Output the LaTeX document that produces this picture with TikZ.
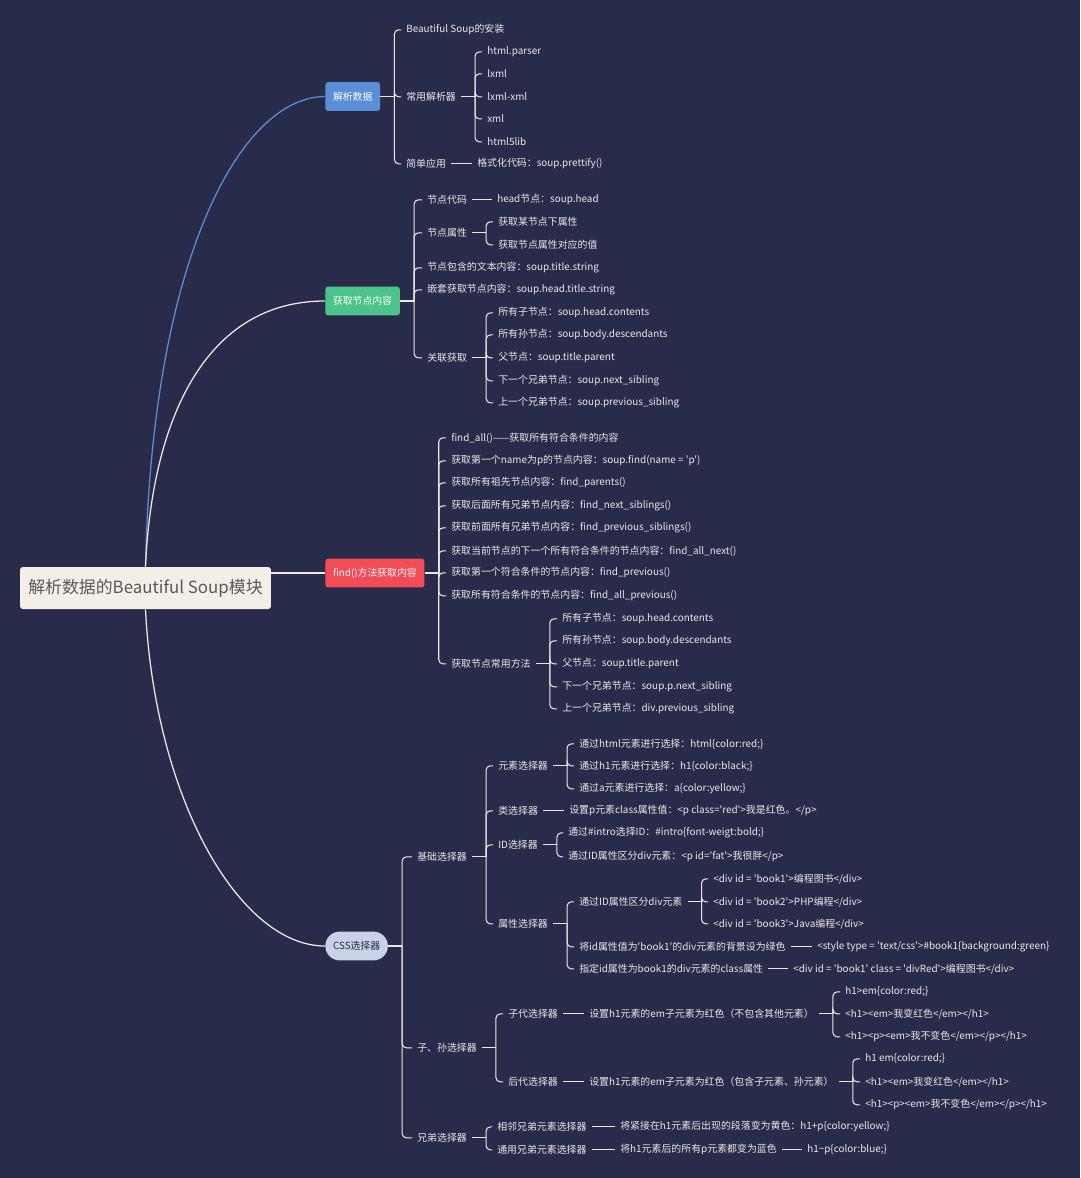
\documentclass[tikz,border=0pt]{standalone}
\usepackage{fontspec}
\setmainfont{Noto Sans CJK SC}[Ligatures=TeXOff]
\definecolor{midnight}{RGB}{41, 43, 75}
\definecolor{chalk}{RGB}{236, 233, 226}
\definecolor{peterriver}{RGB}{90, 143, 216}
\definecolor{nephritis}{RGB}{76, 195, 138}
\definecolor{watermelon}{RGB}{242, 76, 86}
\definecolor{mist}{RGB}{200, 211, 230}
\definecolor{linen}{RGB}{243, 239, 231}
\newcommand{\bracelink}[2]{%
  \draw[link] (#1.east) -- ++(14,0) coordinate (#1-f);
  \foreach \kid in {#2} \draw[link, rounded corners=3pt] (#1-f) |- (\kid.west);}

\begin{document}
\begin{tikzpicture}[x=0.025cm, y=-0.025cm,
    leaf/.style={anchor=west, xshift=-3.5pt, yshift=-0.6pt, inner xsep=3.5pt, inner ysep=1pt, text=chalk, font=\fontsize{7.05}{8}\selectfont},
    branch/.style={anchor=west, rounded corners=2pt, inner xsep=5.5pt, minimum height=0.72cm, text=white, font=\fontsize{7}{8}\selectfont},
    link/.style={draw=chalk, line width=0.75pt},
    trunk/.style={line width=0.9pt}]
  \useasboundingbox (0,0) rectangle (1080,1178);
  \fill[midnight] (0,0) rectangle (1080,1178);

  \node[fill=linen, rounded corners=2pt, minimum width=6.27cm, minimum height=1.05cm, text=black!65, font=\fontsize{12}{14}\selectfont] (root) at (145.5,588) {解析数据的Beautiful Soup模块};

  \node[branch, fill=peterriver] (b1) at (325,96.5) {解析数据};
  \node[branch, fill=nephritis]  (b2) at (325,301)  {获取节点内容};
  \node[branch, fill=watermelon] (b3) at (325,573)  {find()方法获取内容};
  \node[branch, fill=mist, text=midnight, rounded corners=0.36cm] (b4) at (325,946) {CSS选择器};

  \draw[trunk, peterriver] (root.north) .. controls (152,260) and (240,97) .. (b1.west);
  \draw[trunk, chalk] (root.north) .. controls (152,420) and (205,301) .. (b2.west);
  \draw[trunk, chalk] (root.east |- b3.west) -- (b3.west);
  \draw[trunk, chalk] (root.south) .. controls (155,800) and (240,946) .. (b4.west);

  % 解析数据
  \node[leaf] (b1a) at (406,29)  {Beautiful Soup的安装};
  \node[leaf] (b1b) at (406,96)  {常用解析器};
  \node[leaf] (b1c) at (406,163) {简单应用};
  \node[leaf] (p1) at (487,51)  {html.parser};
  \node[leaf] (p2) at (487,73)  {lxml};
  \node[leaf] (p3) at (487,96)  {lxml-xml};
  \node[leaf] (p4) at (487,118) {xml};
  \node[leaf] (p5) at (487,141) {html5lib};
  \node[leaf] (b1c1) at (477,163) {格式化代码：soup.prettify()};
  \bracelink{b1}{b1a,b1b,b1c}
  \bracelink{b1b}{p1,p2,p3,p4,p5}
  \draw[link] (b1c) -- (b1c1);

  % 获取节点内容
  \node[leaf] (n1) at (427,199) {节点代码};
  \node[leaf] (n2) at (427,232) {节点属性};
  \node[leaf] (n3) at (427,267) {节点包含的文本内容：soup.title.string};
  \node[leaf] (n4) at (427,289) {嵌套获取节点内容：soup.head.title.string};
  \node[leaf] (n5) at (427,357) {关联获取};
  \node[leaf] (n1a) at (497,199) {head节点：soup.head};
  \node[leaf] (n2a) at (498,221) {获取某节点下属性};
  \node[leaf] (n2b) at (498,244) {获取节点属性对应的值};
  \node[leaf] (n5a) at (498,312) {所有子节点：soup.head.contents};
  \node[leaf] (n5b) at (498,334) {所有孙节点：soup.body.descendants};
  \node[leaf] (n5c) at (498,357) {父节点：soup.title.parent};
  \node[leaf] (n5d) at (498,380) {下一个兄弟节点：soup.next\_sibling};
  \node[leaf] (n5e) at (498,402) {上一个兄弟节点：soup.previous\_sibling};
  \bracelink{b2}{n1,n2,n3,n4,n5}
  \draw[link] (n1) -- (n1a);
  \bracelink{n2}{n2a,n2b}
  \bracelink{n5}{n5a,n5b,n5c,n5d,n5e}

  % find()方法获取内容
  \node[leaf] (f1) at (451,437) {find\_all()——获取所有符合条件的内容};
  \node[leaf] (f2) at (451,460) {获取第一个name为p的节点内容：soup.find(name = 'p')};
  \node[leaf] (f3) at (451,482) {获取所有祖先节点内容：find\_parents()};
  \node[leaf] (f4) at (451,505) {获取后面所有兄弟节点内容：find\_next\_siblings()};
  \node[leaf] (f5) at (451,527) {获取前面所有兄弟节点内容：find\_previous\_siblings()};
  \node[leaf] (f6) at (451,550) {获取当前节点的下一个所有符合条件的节点内容：find\_all\_next()};
  \node[leaf] (f7) at (451,572) {获取第一个符合条件的节点内容：find\_previous()};
  \node[leaf] (f8) at (451,595) {获取所有符合条件的节点内容：find\_all\_previous()};
  \node[leaf] (f9) at (451,663) {获取节点常用方法};
  \node[leaf] (f9a) at (562,618) {所有子节点：soup.head.contents};
  \node[leaf] (f9b) at (562,640) {所有孙节点：soup.body.descendants};
  \node[leaf] (f9c) at (562,663) {父节点：soup.title.parent};
  \node[leaf] (f9d) at (562,686) {下一个兄弟节点：soup.p.next\_sibling};
  \node[leaf] (f9e) at (562,708) {上一个兄弟节点：div.previous\_sibling};
  \bracelink{b3}{f1,f2,f3,f4,f5,f6,f7,f8,f9}
  \bracelink{f9}{f9a,f9b,f9c,f9d,f9e}

  % CSS选择器
  \node[leaf] (c1) at (417,856)  {基础选择器};
  \node[leaf] (c2) at (417,1047) {子、孙选择器};
  \node[leaf] (c3) at (417,1137) {兄弟选择器};
  \bracelink{b4}{c1,c2,c3}

  \node[leaf] (e) at (498,765) {元素选择器};
  \node[leaf] (k) at (498,810) {类选择器};
  \node[leaf] (d) at (498,844) {ID选择器};
  \node[leaf] (a) at (498,923) {属性选择器};
  \bracelink{c1}{e,k,d,a}

  \node[leaf] (e1) at (579,743) {通过html元素进行选择：html\{color:red;\}};
  \node[leaf] (e2) at (579,765) {通过h1元素进行选择：h1\{color:black;\}};
  \node[leaf] (e3) at (579,788) {通过a元素进行选择：a\{color:yellow;\}};
  \bracelink{e}{e1,e2,e3}
  \node[leaf] (k1) at (569,810) {设置p元素class属性值：<p class='red'>我是红色。</p>};
  \draw[link] (k) -- (k1);
  \node[leaf] (d1) at (568,832) {通过\#intro选择ID：\#intro\{font-weigt:bold;\}};
  \node[leaf] (d2) at (568,856) {通过ID属性区分div元素：<p id='fat'>我很胖</p>};
  \bracelink{d}{d1,d2}

  \node[leaf] (a1) at (579,901) {通过ID属性区分div元素};
  \node[leaf] (a2) at (579,946) {将id属性值为'book1'的div元素的背景设为绿色};
  \node[leaf] (a3) at (579,968) {指定id属性为book1的div元素的class属性};
  \bracelink{a}{a1,a2,a3}
  \node[leaf] (a1x) at (713,878) {<div id = 'book1'>编程图书</div>};
  \node[leaf] (a1y) at (713,901) {<div id = 'book2'>PHP编程</div>};
  \node[leaf] (a1z) at (713,923) {<div id = 'book3'>Java编程</div>};
  \bracelink{a1}{a1x,a1y,a1z}
  \node[leaf] (a2t) at (817,946) {<style type = 'text/css'>\#book1\{background:green\}};
  \draw[link] (a2) -- (a2t);
  \node[leaf] (a3t) at (793,968) {<div id = 'book1' class = 'divRed'>编程图书</div>};
  \draw[link] (a3) -- (a3t);

  \node[leaf] (s1) at (508,1013) {子代选择器};
  \node[leaf] (s2) at (508,1081) {后代选择器};
  \bracelink{c2}{s1,s2}
  \node[leaf] (s1t) at (589,1013) {设置h1元素的em子元素为红色（不包含其他元素）};
  \node[leaf] (s2t) at (589,1081) {设置h1元素的em子元素为红色（包含子元素、孙元素）};
  \draw[link] (s1) -- (s1t);
  \draw[link] (s2) -- (s2t);
  \node[leaf] (s1a) at (845,991)  {h1>em\{color:red;\}};
  \node[leaf] (s1b) at (845,1013) {<h1><em>我变红色</em></h1>};
  \node[leaf] (s1c) at (845,1036) {<h1><p><em>我不变色</em></p></h1>};
  \bracelink{s1t}{s1a,s1b,s1c}
  \node[leaf] (s2a) at (865,1058) {h1 em\{color:red;\}};
  \node[leaf] (s2b) at (865,1081) {<h1><em>我变红色</em></h1>};
  \node[leaf] (s2c) at (865,1104) {<h1><p><em>我不变色</em></p></h1>};
  \bracelink{s2t}{s2a,s2b,s2c}

  \node[leaf] (g1) at (497,1126) {相邻兄弟元素选择器};
  \node[leaf] (g2) at (497,1149) {通用兄弟元素选择器};
  \bracelink{c3}{g1,g2}
  \node[leaf] (g1t) at (620,1126) {将紧接在h1元素后出现的段落变为黄色：h1+p\{color:yellow;\}};
  \node[leaf] (g2t) at (620,1149) {将h1元素后的所有p元素都变为蓝色};
  \node[leaf] (g2u) at (807,1149) {h1\textasciitilde p\{color:blue;\}};
  \draw[link] (g1) -- (g1t);
  \draw[link] (g2) -- (g2t);
  \draw[link] (g2t) -- (g2u);
\end{tikzpicture}
\end{document}
